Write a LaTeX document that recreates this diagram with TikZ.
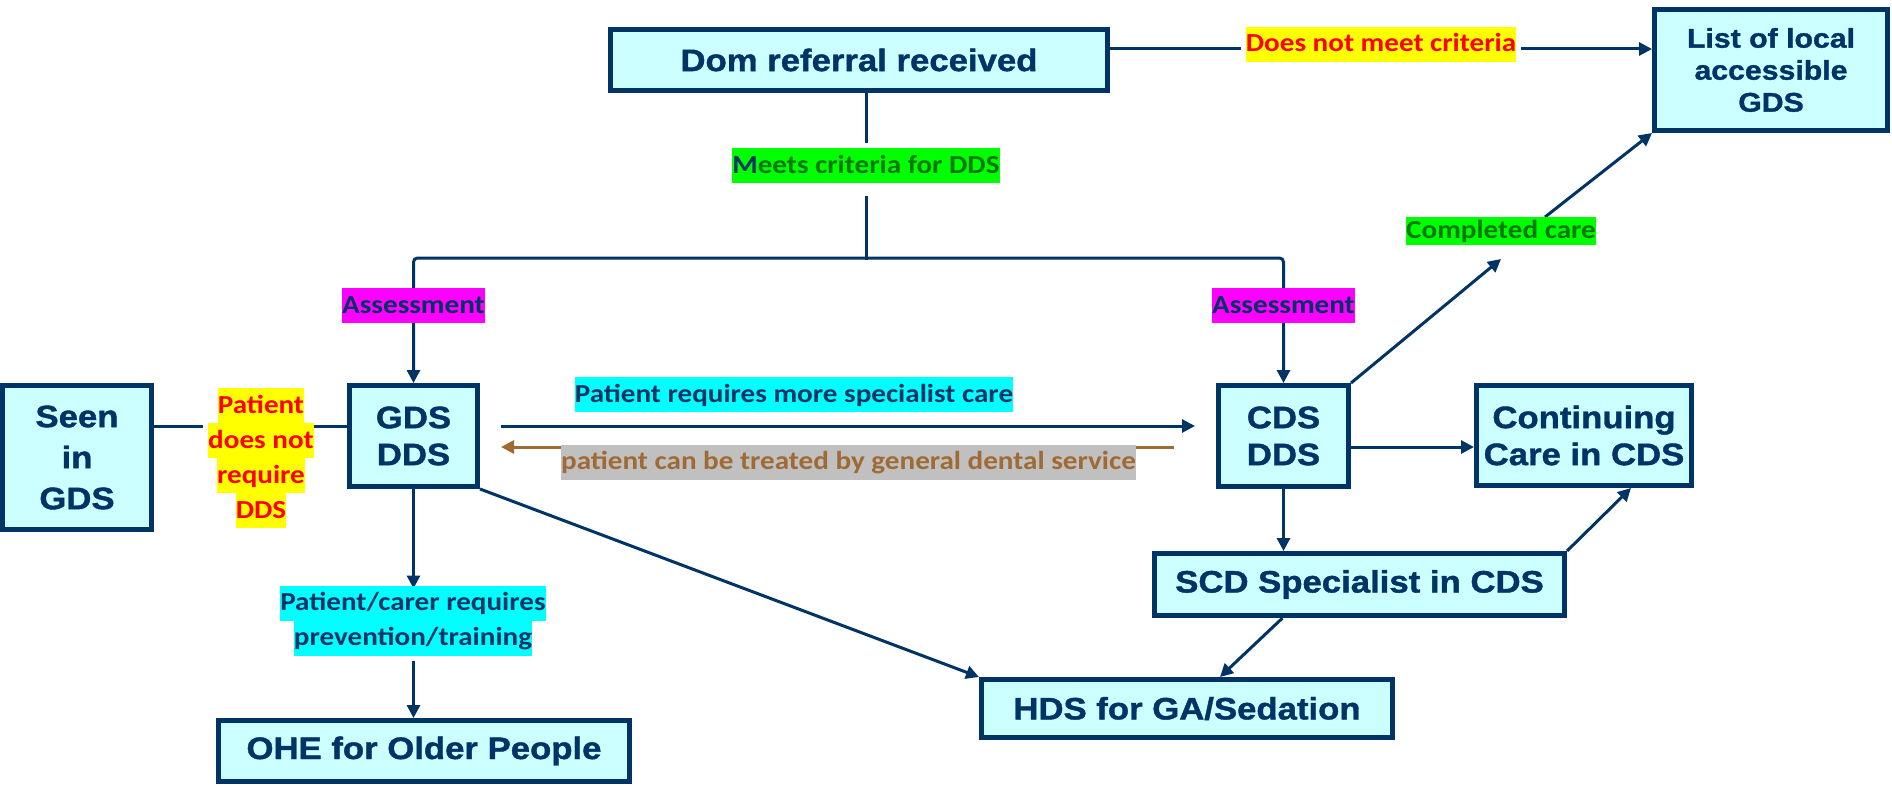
\documentclass[tikz,border=0pt]{standalone}
\usepackage{fontspec}
\setmainfont{Liberation Sans}[FakeStretch=1.12, BoldFeatures={FakeBold=1.3}]
\newfontfamily\tagfont{Carlito}[FakeStretch=1.12]
\usetikzlibrary{arrows.meta,calc}

\definecolor{navy}{RGB}{0,51,102}
\definecolor{boxfill}{RGB}{204,255,255}
\definecolor{hlyellow}{RGB}{255,255,0}
\definecolor{hlgreen}{RGB}{0,255,0}
\definecolor{txtgreen}{RGB}{0,120,0}
\definecolor{hlcyan}{RGB}{0,255,255}
\definecolor{hlmagenta}{RGB}{255,0,255}
\definecolor{hlgrey}{RGB}{192,192,192}
\definecolor{txtbrown}{RGB}{160,106,52}
\definecolor{txtred}{RGB}{255,0,0}

% highlighted text rows
\newcommand\hl[2]{{\setlength\fboxsep{0pt}\colorbox{#1}{\rule[-10pt]{0pt}{35pt}#2}}}
\newcommand\hlthin[2]{{\setlength\fboxsep{0pt}\colorbox{#1}{\rule[-7pt]{0pt}{28pt}#2}}}

\pgfdeclarelayer{background}
\pgfsetlayers{background,main}

\tikzset{
  box/.style={draw=navy, line width=5pt, fill=boxfill, text=navy, align=center,
    inner sep=0pt, font=\bfseries\fontsize{31}{37}\selectfont},
  tag/.style={inner sep=0pt, outer sep=5pt, align=center,
    font=\tagfont\bfseries\fontsize{26}{35}\selectfont},
  conn/.style={draw=navy, line width=3pt},
  arr/.style={conn, -{Triangle[length=13pt,width=13pt]}},
}

\begin{document}
\begin{tikzpicture}[x=1pt,y=-1pt]
\useasboundingbox (0,0) rectangle (1892,792);

% service boxes
\node[box, minimum width=497pt, minimum height=61pt] (dom) at (859,60) {Dom referral received};
\node[box, minimum width=233pt, minimum height=121pt, font=\bfseries\fontsize{27}{32}\selectfont] (list) at (1771,70) {List of local\\accessible\\GDS};
\node[box, minimum width=149pt, minimum height=144pt, font=\bfseries\fontsize{31}{41}\selectfont] (seen) at (77,457.5) {Seen\\in\\GDS};
\node[box, minimum width=128pt, minimum height=101pt] (gds) at (413.5,436) {GDS\\DDS};
\node[box, minimum width=130pt, minimum height=101pt] (cds) at (1283.5,436) {CDS\\DDS};
\node[box, minimum width=215pt, minimum height=100pt] (cont) at (1584,435.5) {Continuing\\Care in CDS};
\node[box, minimum width=410pt, minimum height=62pt] (scd) at (1359.5,584.5) {SCD Specialist in CDS};
\node[box, minimum width=411pt, minimum height=58pt] (hds) at (1187,708.5) {HDS for GA/Sedation};
\node[box, minimum width=411pt, minimum height=61pt] (ohe) at (424,751) {OHE for Older People};

% decision labels
\node[tag, text=txtred] (dnm) at (1381,44.5) {\hl{hlyellow}{Does not meet criteria}};
\node[tag, text=txtgreen] (meets) at (866,165.5) {\hl{hlgreen}{\textcolor{navy}{M}eets criteria for DDS}};
\node[tag, text=navy] (ass1) at (413.5,305.5) {\hl{hlmagenta}{Assessment}};
\node[tag, text=navy] (ass2) at (1283.5,305.5) {\hl{hlmagenta}{Assessment}};
\node[tag, text=txtred] (pdnr) at (261,458) {\hl{hlyellow}{Patient}\\\hl{hlyellow}{does not}\\\hl{hlyellow}{require}\\\hl{hlyellow}{DDS}};
\node[tag, text=navy] (prmsc) at (794,394.5) {\hl{hlcyan}{Patient requires more specialist care}};
\node[tag, text=txtbrown] (pcbt) at (848.5,462) {\hl{hlgrey}{patient can be treated by general dental service}};
\node[tag, text=navy] (pct) at (413,620.5) {\hl{hlcyan}{Patient/carer requires}\\\hl{hlcyan}{prevention/training}};
\node[tag, text=txtgreen] (cc) at (1501,231) {\hlthin{hlgreen}{Completed care}};

\coordinate (split) at (866,258);

\begin{pgfonlayer}{background}
  % referral outcome
  \draw[conn] ([yshift=11pt]dom.east) -- ([yshift=11pt]dom.east -| dnm.west);
  \draw[arr] ([yshift=11pt]dom.east -| dnm.east) -- ([yshift=11pt]dom.east -| list.west);
  \draw[conn] (meets |- dom.south) -- (meets.north);
  \draw[conn, line cap=rect] ([yshift=-9pt]meets.south) -- (split);
  \draw[arr, rounded corners=4pt] (split) -| (gds.north);
  \draw[arr, rounded corners=4pt] (split) -| (cds.north);

  % general dental service side
  \draw[conn] ([yshift=10pt]gds.west -| seen.east) -- ([yshift=10pt]gds.west -| pdnr.west);
  \draw[conn] ([yshift=10pt]gds.west -| pdnr.center) -- ([yshift=10pt]gds.west);
  \draw[arr, shorten <=21pt, shorten >=21pt] ([yshift=10pt]gds.east) -- ([yshift=10pt]cds.west);
  \draw[arr, draw=txtbrown, shorten <=42pt, shorten >=21pt] ([yshift=-11pt]cds.west) -- ([yshift=-11pt]gds.east);
  \draw[arr, shorten >=-8pt] (gds.south) -- (gds.south |- pct.north);
  \draw[arr] (gds.south |- pct.south) -- (gds.south |- ohe.north);
  \draw[arr] (gds.south east) -- (hds.north west);

  % community dental service side
  \draw[arr] ([yshift=-11pt]cds.east) -- ([yshift=-11pt]cds.east -| cont.west);
  \draw[arr] (cds.south) -- (cds.south |- scd.north);
  \draw[arr] (scd.north east) -- ([xshift=47pt]cont.south);
  \draw[arr] ([xshift=-77pt]scd.south) -- ([xshift=33pt]hds.north);
  \draw[arr] (cds.north east) -- ($(cc.south)+(0,9)$);
  \draw[arr] ($(cc.north)+(44,5)$) -- (list.south west);
\end{pgfonlayer}
\end{tikzpicture}
\end{document}
